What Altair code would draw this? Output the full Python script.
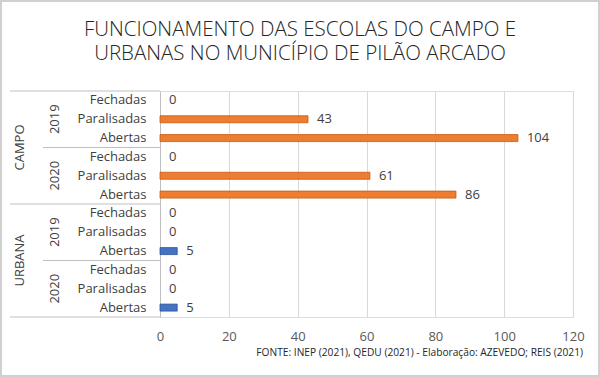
import altair as alt
import pandas as pd

groups = ["CAMPO"] * 6 + ["URBANA"] * 6
years = ["2019", "2019", "2019", "2020", "2020", "2020"] * 2
statuses = ["Fechadas", "Paralisadas", "Abertas"] * 4
values = [0, 43, 104, 0, 61, 86, 0, 0, 5, 0, 0, 5]
x_ticks = [0, 20, 40, 60, 80, 100, 120]
title_lines = ["FUNCIONAMENTO DAS ESCOLAS DO CAMPO E", "URBANAS NO MUNICÍPIO DE PILÃO ARCADO"]
source = "FONTE: INEP (2021),  QEDU (2021) - Elaboração: AZEVEDO; REIS (2021)"

keys = [f"{g}|{y}|{s}" for g, y, s in zip(groups, years, statuses)]
df = pd.DataFrame({"key": keys, "group": groups, "year": years, "status": statuses, "value": values})

FONT = "Open Sans"
TXT = "#404040"
LINE = "#BFBFBF"

yscale = alt.Scale(domain=keys, paddingInner=0, paddingOuter=0)
xscale = alt.Scale(domain=[0, 120], nice=False)

yaxis = alt.Axis(title=None, labelExpr="split(datum.label, '|')[2]", ticks=False,
                 domain=True, domainColor=LINE, labelPadding=14, labelFontSize=13,
                 labelColor=TXT, labelFont=FONT)
xaxis = alt.Axis(title=None, values=x_ticks, grid=True, gridColor="#D9D9D9", domain=False,
                 ticks=False, labelPadding=13, labelFontSize=13, labelColor="#595959",
                 labelFont=FONT, labelFlush=False)

base = alt.Chart(df)

bars = base.mark_bar(size=7, strokeWidth=0.8).encode(
    x=alt.X("value:Q", scale=xscale, axis=xaxis),
    y=alt.Y("key:N", scale=yscale, axis=yaxis),
    color=alt.Color("group:N", scale=alt.Scale(domain=["CAMPO", "URBANA"], range=["#ED7D31", "#4472C4"]), legend=None),
    stroke=alt.Stroke("group:N", scale=alt.Scale(domain=["CAMPO", "URBANA"], range=["#C55A11", "#2F5597"]), legend=None),
).transform_filter("datum.value > 0")

labels = base.mark_text(align="left", baseline="middle", dx=9, fontSize=13, font=FONT, color=TXT).encode(
    x=alt.X("value:Q", scale=xscale),
    y=alt.Y("key:N", scale=yscale),
    text="value:Q",
)

year_df = pd.DataFrame({"key": [k for k, s in zip(keys, statuses) if s == "Paralisadas"],
                        "year": [y for y, s in zip(years, statuses) if s == "Paralisadas"]})
year_labels = alt.Chart(year_df).mark_text(angle=270, fontSize=13, font=FONT, color=TXT,
                                           align="center", baseline="middle").encode(
    x=alt.value(-105),
    y=alt.Y("key:N", scale=yscale, bandPosition=0.5),
    text="year:N",
)

grp_df = pd.DataFrame({"key": ["CAMPO|2020|Fechadas", "URBANA|2020|Fechadas"], "group": ["CAMPO", "URBANA"]})
group_labels = alt.Chart(grp_df).mark_text(angle=270, fontSize=13, font=FONT, color=TXT,
                                           align="center", baseline="middle").encode(
    x=alt.value(-140),
    y=alt.Y("key:N", scale=yscale, bandPosition=0),
    text="group:N",
)

long_df = pd.DataFrame({"key": ["CAMPO|2019|Fechadas", "URBANA|2019|Fechadas"]})
long_sep = alt.Chart(long_df).mark_rule(color=LINE, strokeWidth=1).encode(
    y=alt.Y("key:N", scale=yscale, bandPosition=0),
    x=alt.value(-150), x2=alt.value(0),
)
short_df = pd.DataFrame({"key": ["CAMPO|2020|Fechadas", "URBANA|2020|Fechadas"]})
short_sep = alt.Chart(short_df).mark_rule(color=LINE, strokeWidth=1).encode(
    y=alt.Y("key:N", scale=yscale, bandPosition=0),
    x=alt.value(-117), x2=alt.value(0),
)
bottom_df = pd.DataFrame({"key": ["URBANA|2020|Abertas"]})
bottom_sep = alt.Chart(bottom_df).mark_rule(color=LINE, strokeWidth=1).encode(
    y=alt.Y("key:N", scale=yscale, bandPosition=1),
    x=alt.value(-150), x2=alt.value(0),
)

src = alt.Chart(pd.DataFrame({"t": [source]})).mark_text(
    align="right", baseline="middle", fontSize=10.2, font=FONT, color="#262626").encode(
    x=alt.value(423), y=alt.value(262), text="t:N")

title = alt.Chart(pd.DataFrame({"t": ["\n".join(title_lines)]})).mark_text(
    align="center", baseline="alphabetic", fontSize=20.5, font=FONT, fontWeight=300, color="#262626",
    lineBreak="\n", lineHeight=24).encode(
    x=alt.value(140), y=alt.value(-55), text="t:N")

border = alt.Chart(pd.DataFrame({"a": [0]})).mark_rect(fill=None, stroke="#D0D0D0", strokeWidth=2).encode(
    x=alt.value(-159), x2=alt.value(439), y=alt.value(-90), y2=alt.value(285))

chart = alt.layer(border, long_sep, short_sep, bottom_sep, bars, labels, year_labels, group_labels, src,
                  title).properties(
    width=413, height=226,
    autosize=alt.AutoSizeParams(type="none"),
    padding={"left": 160, "top": 91, "right": 27, "bottom": 60},
).configure_view(stroke=None).configure(background="white")

chart.save("out.html", embed_options={"renderer": "svg", "actions": False})
